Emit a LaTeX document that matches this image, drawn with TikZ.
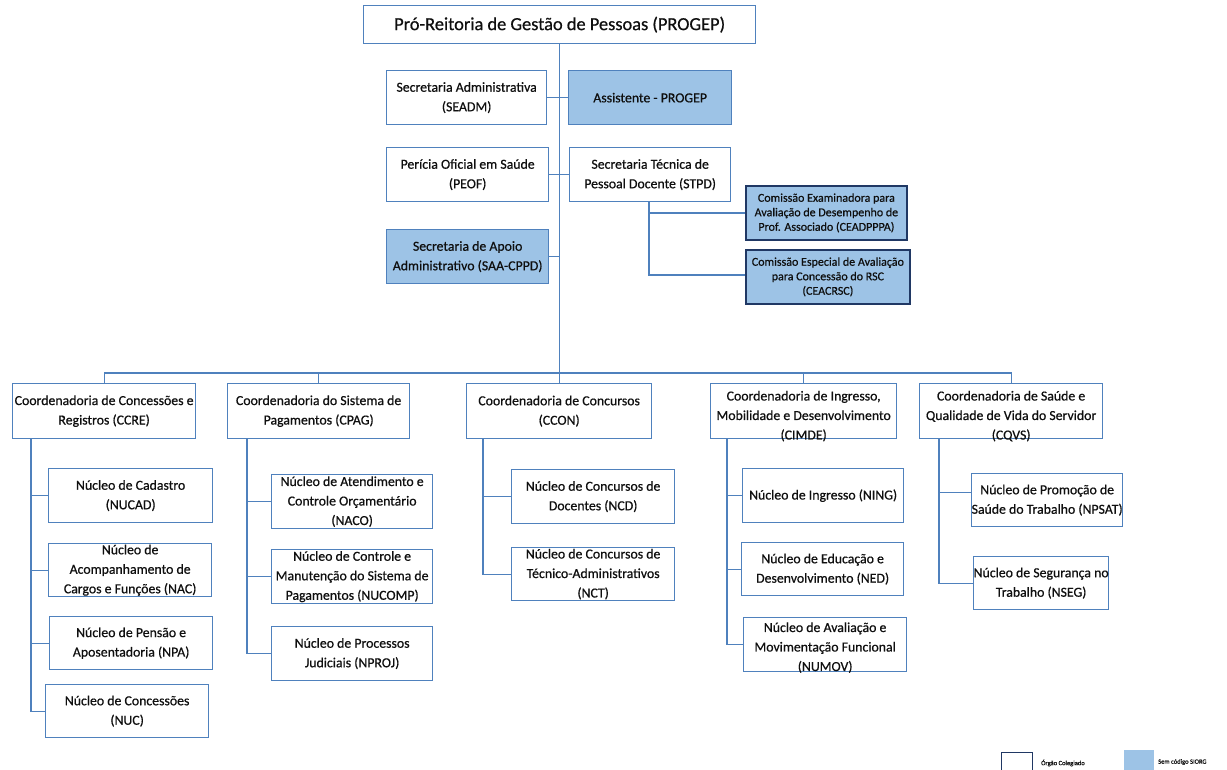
\documentclass[tikz,border=0pt]{standalone}
\usepackage{fontspec}
\setmainfont{Carlito}[FakeBold=0.6]
\definecolor{bordblue}{RGB}{79,129,189}
\definecolor{lightfill}{RGB}{157,195,230}
\definecolor{navy}{RGB}{32,56,100}
\definecolor{txt}{RGB}{15,15,15}
\begin{document}
\begin{tikzpicture}[x=1pt,y=-1pt,
  bx/.style={draw=bordblue, line width=1.3pt, fill=white, inner sep=0pt, anchor=north west,
    align=center, text=txt, font=\fontsize{13.8}{19.5}\selectfont},
  tx/.style={inner sep=0pt, align=center, text=txt, font=\fontsize{13.8}{19.5}\selectfont},
  sg/.style={bx, fill=lightfill},
  commbox/.style={bx, fill=lightfill, draw=navy, line width=1.8pt, font=\fontsize{12}{14.5}\selectfont},
  ln/.style={draw=bordblue, line width=1.3pt},
  lgt/.style={anchor=west, inner sep=0pt, text=txt, font=\fontsize{6.5}{8}\selectfont}]
\useasboundingbox (0,0) rectangle (1227,769);
\fill[white] (0,0) rectangle (1227,769);

% top boxes
\node[bx, minimum width=392pt, minimum height=38pt, font=\fontsize{18.4}{22}\selectfont] (progep) at (363,5) {Pró-Reitoria de Gestão de Pessoas (PROGEP)};
\node[bx, minimum width=160pt, minimum height=54pt] (seadm) at (386,70) {Secretaria Administrativa\\(SEADM)};
\node[sg, minimum width=163pt, minimum height=54pt] (assist) at (568,70) {Assistente - PROGEP};
\node[bx, minimum width=162pt, minimum height=54pt] (peof) at (386,147) {Perícia Oficial em Saúde\\(PEOF)};
\node[bx, minimum width=161pt, minimum height=54pt] (stpd) at (569,147) {Secretaria Técnica de\\Pessoal Docente (STPD)};
\node[sg, minimum width=162pt, minimum height=54pt] (saa) at (386,229) {Secretaria de Apoio\\Administrativo (SAA-CPPD)};
\node[commbox, minimum width=161pt, minimum height=54pt] (ceadpppa) at (745,185) {Comissão Examinadora para\\Avaliação de Desempenho de\\Prof. Associado (CEADPPPA)};
\node[commbox, minimum width=164pt, minimum height=54pt] (ceacrsc) at (745,249) {Comissão Especial de Avaliação\\para Concessão do RSC\\(CEACRSC)};

% coordenadorias
\node[bx, minimum width=183pt, minimum height=55pt] (ccre) at (12,383) {Coordenadoria de Concessões e\\Registros (CCRE)};
\node[bx, minimum width=182pt, minimum height=55pt] (cpag) at (227,383) {Coordenadoria do Sistema de\\Pagamentos (CPAG)};
\node[bx, minimum width=185pt, minimum height=55pt] (ccon) at (466,383) {Coordenadoria de Concursos\\(CCON)};
\node[bx, minimum width=186pt, minimum height=55pt] (cimde) at (710,383) {};
\node[tx] (cimdet) at ([yshift=-5pt]cimde.center) {Coordenadoria de Ingresso,\\Mobilidade e Desenvolvimento\\(CIMDE)};
\node[bx, minimum width=183pt, minimum height=55pt] (cqvs) at (919,383) {};
\node[tx] (cqvst) at ([yshift=-5pt]cqvs.center) {Coordenadoria de Saúde e\\Qualidade de Vida do Servidor\\(CQVS)};

% nucleos CCRE
\node[bx, minimum width=164pt, minimum height=54pt] (nucad) at (48,468) {Núcleo de Cadastro\\(NUCAD)};
\node[bx, minimum width=163pt, minimum height=53pt] (nac) at (48,543) {Núcleo de\\Acompanhamento de\\Cargos e Funções (NAC)};
\node[bx, minimum width=163pt, minimum height=53pt] (npa) at (49,616) {Núcleo de Pensão e\\Aposentadoria (NPA)};
\node[bx, minimum width=163pt, minimum height=53pt] (nuc) at (45,684) {Núcleo de Concessões\\(NUC)};
% nucleos CPAG
\node[bx, minimum width=161pt, minimum height=54pt] (naco) at (271,474) {Núcleo de Atendimento e\\Controle Orçamentário\\(NACO)};
\node[bx, minimum width=161pt, minimum height=54pt] (nucomp) at (271,549) {Núcleo de Controle e\\Manutenção do Sistema de\\Pagamentos (NUCOMP)};
\node[bx, minimum width=161pt, minimum height=54pt] (nproj) at (271,626) {Núcleo de Processos\\Judiciais (NPROJ)};
% nucleos CCON
\node[bx, minimum width=163pt, minimum height=54pt] (ncd) at (511,469) {Núcleo de Concursos de\\Docentes (NCD)};
\node[bx, minimum width=163pt, minimum height=53pt] (nct) at (511,547) {Núcleo de Concursos de\\Técnico-Administrativos\\(NCT)};
% nucleos CIMDE
\node[bx, minimum width=161pt, minimum height=54pt] (ning) at (742,468) {Núcleo de Ingresso (NING)};
\node[bx, minimum width=162pt, minimum height=53pt] (ned) at (741,542) {Núcleo de Educação e\\Desenvolvimento (NED)};
\node[bx, minimum width=163pt, minimum height=54pt] (numov) at (743,617) {};
\node[tx] (numovt) at ([yshift=-3pt]numov.center) {Núcleo de Avaliação e\\Movimentação Funcional\\(NUMOV)};
% nucleos CQVS
\node[bx, minimum width=134pt, minimum height=53pt] (npsat) at (971,473) {Núcleo de Promoção de\\Saúde do Trabalho (NPSAT)};
\node[bx, minimum width=132pt, minimum height=53pt] (nseg) at (973,556) {Núcleo de Segurança no\\Trabalho (NSEG)};

% connectors
\draw[ln] (progep.south) -- (progep.south |- ccon.north);
\draw[ln] (seadm.east) -- (assist.west);
\draw[ln] (peof.east) -- (stpd.west);
\draw[ln] (saa.east) -- (saa.east -| progep.south);
\draw[ln] ([xshift=80pt]stpd.south west) |- (ceadpppa.west);
\draw[ln] ([xshift=80pt]stpd.south west) |- ([yshift=2pt]ceacrsc.west);
\draw[ln] (ccre.north) -- ++(0,-10) -| (cqvs.north);
\draw[ln] (cpag.north) -- ++(0,-10);
\draw[ln] (cimde.north) -- ++(0,-10);

\draw[ln] ([xshift=19pt]ccre.south west) |- (nucad.west);
\draw[ln] ([xshift=19pt]ccre.south west) |- (nac.west);
\draw[ln] ([xshift=19pt]ccre.south west) |- (npa.west);
\draw[ln] ([xshift=19pt]ccre.south west) |- (nuc.west);
\draw[ln] ([xshift=20pt]cpag.south west) |- (naco.west);
\draw[ln] ([xshift=20pt]cpag.south west) |- (nucomp.west);
\draw[ln] ([xshift=20pt]cpag.south west) |- (nproj.west);
\draw[ln] ([xshift=17pt]ccon.south west) |- (ncd.west);
\draw[ln] ([xshift=17pt]ccon.south west) |- (nct.west);
\draw[ln] ([xshift=17pt]cimde.south west) |- (ning.west);
\draw[ln] ([xshift=17pt]cimde.south west) |- (ned.west);
\draw[ln] ([xshift=17pt]cimde.south west) |- (numov.west);
\draw[ln] ([xshift=20pt]cqvs.south west) |- ([yshift=8pt]npsat.west);
\draw[ln] ([xshift=20pt]cqvs.south west) |- (nseg.west);

% legend
\node[draw=navy, line width=1.2pt, fill=white, minimum width=31pt, minimum height=24pt, anchor=north west, inner sep=0pt] (lg1) at (1001,752) {};
\node[lgt] (lg1t) at (1041,763) {Órgão Colegiado};
\node[fill=lightfill, minimum width=30pt, minimum height=24pt, anchor=north west, inner sep=0pt] (lg2) at (1124,750) {};
\node[lgt] (lg2t) at (1158,762) {Sem código SIORG};
\end{tikzpicture}
\end{document}
